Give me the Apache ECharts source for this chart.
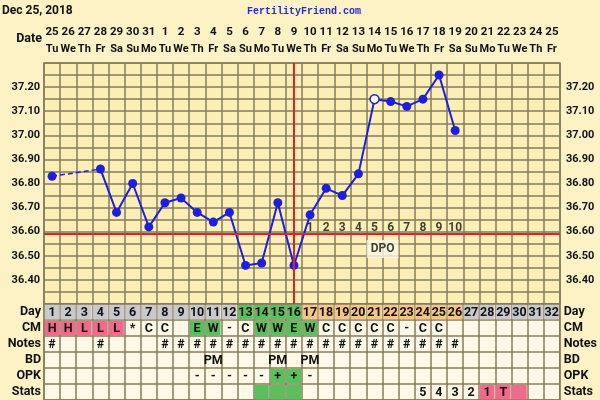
<!DOCTYPE html>
<html><head><meta charset="utf-8">
<script src="https://cdn.jsdelivr.net/npm/echarts@6/dist/echarts.min.js"></script>
<style>html,body{margin:0;padding:0;background:#FCF2C6}#c{width:600px;height:400px}</style>
</head><body><div id="c"></div>
<script>
// ---- data ----
const dayNums = ['1','2','3','4','5','6','7','8','9','10','11','12','13','14','15','16','17','18','19','20','21','22','23','24','25','26','27','28','29','30','31','32'];
const dates = ['25','26','27','28','29','30','31','1','2','3','4','5','6','7','8','9','10','11','12','13','14','15','16','17','18','19','20','21','22','23','24','25'];
const weekdays = ['Tu','We','Th','Fr','Sa','Su','Mo','Tu','We','Th','Fr','Sa','Su','Mo','Tu','We','Th','Fr','Sa','Su','Mo','Tu','We','Th','Fr','Sa','Su','Mo','Tu','We','Th','Fr'];
const temps = [36.83,null,null,36.86,36.68,36.80,36.62,36.72,36.74,36.68,36.64,36.68,36.46,36.47,36.72,36.46,36.67,36.78,36.75,36.84,37.15,37.14,37.12,37.15,37.25,37.02,null,null,null,null,null,null];
const dashedTemps = [36.83,null,null,36.86,null,null,null,null,null,null,null,null,null,null,null,null,null,null,null,null,null,null,null,null,null,null,null,null,null,null,null,null];
const openDays = ['21'];
const tempTicks = ['36.40','36.50','36.60','36.70','36.80','36.90','37.00','37.10','37.20'];
const coverline = 36.59;
const ovulationDay = '16';
const dpo = ['','','','','','','','','','','','','','','','','1','2','3','4','5','6','7','8','9','10','','','','','',''];
const rowLabels = ['Day','CM','Notes','BD','OPK','Stats'];
const dayColor = ['g','g','g','g','g','g','g','g','g','g','g','g','G','G','G','G','o','o','o','o','o','o','o','o','o','o','g','g','g','g','g','g'];
const cmText  = ['H','H','L','L','L','*','C','C','','E','W','-','C','W','W','E','W','C','C','C','C','C','-','C','C','','','','','','',''];
const cmColor = ['p','p','p','p','p','','','','','G','G','','','G','G','G','G','','','','','','','','','','','','','','',''];
const notes = ['#','','','#','','','','#','#','#','#','#','#','#','#','#','#','#','#','#','#','#','#','#','#','#','','','','','',''];
const bd = ['','','','','','','','','','','PM','','','','PM','','PM','','','','','','','','','','','','','','',''];
const opk = ['','','','','','','','','','-','-','-','-','-','+','+','-','','','','','','','','','','','','','','',''];
const opkColor = ['','','','','','','','','','','','','','','G','G','','','','','','','','','','','','','','','',''];
const stats = ['','','','','','','','','','','','','','','','','','','','','','','','5','4','3','2','1','T','','',''];
const statsColor = ['','','','','','','','','','','','','','G','G','G','','','','','','','','','','','','p','p','p','',''];

// ---- styles ----
const LINE = '#857C5C';
const BLUE = '#1E1EDC';
const RED = '#E8202A';
const palette = {g:'#C8C9CB', G:'#5DBE5D', o:'#F7C588', p:'#EE6B8B'};
const FONT = 'Roboto';

const cells = [];
function addRow(r, texts, colors){
  for (let i=0;i<32;i++){
    const t = texts ? texts[i] : '';
    const c = colors ? colors[i] : '';
    if (t || c) cells.push({x:i, y:r, text:t, color:c ? palette[c] : null});
  }
}
addRow(0, dayNums, dayColor);
addRow(1, cmText, cmColor);
addRow(2, notes, null);
addRow(3, bd, null);
addRow(4, opk, opkColor);
addRow(5, stats, statsColor);

const chart = echarts.init(document.getElementById('c'), null, {renderer:'canvas'});
const labelFmt = v => { const s = Number(v).toFixed(2); return tempTicks.indexOf(s) >= 0 ? s : ''; };
const lab = {fontFamily:FONT, fontWeight:'bold', color:'#111'};

chart.setOption({
  animation:false,
  backgroundColor:'#FCF2C6',
  textStyle:{fontFamily:FONT},
  grid:[
    {left:44, right:40, top:63, height:241, show:true, backgroundColor:'#FBEFB7', borderColor:LINE, borderWidth:1.5},
    {left:44, right:40, top:304, height:97.5, show:true, backgroundColor:'#FEF9E7', borderColor:LINE, borderWidth:1.5}
  ],
  xAxis:[
    {type:'category', gridIndex:0, position:'top', data:dayNums, boundaryGap:true,
     axisLine:{show:false}, axisTick:{show:false},
     splitLine:{show:true, interval:0, lineStyle:{color:LINE, width:1.5}},
     axisLabel:{interval:0, margin:5, formatter:(v,i)=>'{d|'+dates[i]+'}\n{w|'+weekdays[i]+'}',
       rich:{d:Object.assign({fontSize:11.5, lineHeight:17}, lab),
             w:Object.assign({fontSize:11, lineHeight:17}, lab)}}},
    {type:'category', gridIndex:1, data:dayNums, boundaryGap:true,
     axisLine:{show:false}, axisTick:{show:false}, axisLabel:{show:false},
     splitLine:{show:true, interval:0, lineStyle:{color:LINE, width:1.5}}}
  ],
  yAxis:[
    {type:'value', gridIndex:0, min:36.3, max:37.3, interval:0.05,
     axisLine:{show:false}, axisTick:{show:false},
     splitLine:{show:true, lineStyle:{color:LINE, width:1.5}},
     axisLabel:Object.assign({formatter:labelFmt, fontSize:11, margin:4}, lab)},
    {type:'value', gridIndex:0, position:'right', min:36.3, max:37.3, interval:0.05,
     axisLine:{show:false}, axisTick:{show:false}, splitLine:{show:false},
     axisLabel:Object.assign({formatter:labelFmt, fontSize:11, margin:6}, lab)},
    {type:'category', gridIndex:1, data:rowLabels, inverse:true, boundaryGap:true,
     axisLine:{show:false}, axisTick:{show:false},
     splitLine:{show:true, interval:0, lineStyle:{color:LINE, width:1.5}},
     axisLabel:Object.assign({interval:0, fontSize:12.5, margin:3}, lab)},
    {type:'category', gridIndex:1, position:'right', data:rowLabels, inverse:true, boundaryGap:true,
     axisLine:{show:false}, axisTick:{show:false}, splitLine:{show:false},
     axisLabel:Object.assign({interval:0, fontSize:12.5, margin:4}, lab)}
  ],
  graphic:[
    {type:'text', left:2, top:5, style:{text:'Dec 25, 2018', font:'bold 12px Roboto', fill:'#111'}},
    {type:'text', left:247, top:6, style:{text:'FertilityFriend.com', font:'bold 10px "Liberation Mono"', fill:'#2A2AD0'}},
    {type:'text', right:558, top:32, style:{text:'Date', font:'bold 12.5px Roboto', fill:'#111'}}
  ],
  series:[
    {type:'line', xAxisIndex:0, yAxisIndex:0, data:dashedTemps, connectNulls:true, symbol:'none',
     lineStyle:{color:BLUE, width:1.5, type:[5,3]}, z:3, silent:true},
    {type:'line', xAxisIndex:0, yAxisIndex:0, showAllSymbol:true, connectNulls:false,
     data:temps.map((v,i)=> openDays.indexOf(dayNums[i])>=0 ? {value:v, itemStyle:{color:'#FFFFFF', borderColor:BLUE, borderWidth:1.5}} : v),
     symbol:'circle', symbolSize:9, lineStyle:{color:BLUE, width:2}, itemStyle:{color:BLUE}, z:4,
     markLine:{silent:true, symbol:'none', label:{show:false},
       lineStyle:{color:RED, width:2, type:'solid'},
       data:[{yAxis:coverline}, {xAxis:ovulationDay}]}},
    {type:'scatter', xAxisIndex:0, yAxisIndex:0, symbolSize:0, z:5,
     data:dpo.map((t,i)=> t ? [i, 36.617] : null).filter(Boolean),
     label:Object.assign({show:true, position:'inside', formatter:p=>dpo[p.value[0]], fontSize:12}, lab)},
    {type:'scatter', xAxisIndex:0, yAxisIndex:0, symbolSize:0, z:5,
     data:[[20, 36.528]],
     label:Object.assign({show:true, position:'inside', offset:[8,0], formatter:'DPO', fontSize:12,
       backgroundColor:'#FEF8E2', padding:[3,4]}, lab)},
    {type:'custom', xAxisIndex:1, yAxisIndex:2, z:5,
     data:cells.map(c=>[c.x, c.y]),
     renderItem:function(params, api){
       const c = cells[params.dataIndex];
       const p = api.coord([api.value(0), api.value(1)]);
       const s = api.size([1,1]);
       const ch = [];
       if (c.color) ch.push({type:'rect', shape:{x:p[0]-s[0]/2+0.75, y:p[1]-s[1]/2+0.75, width:s[0]-1.5, height:s[1]-1.5}, style:{fill:c.color}});
       if (c.text) ch.push({type:'text', style:{text:c.text, x:p[0], y:p[1]+0.5, align:'center', verticalAlign:'middle', font:'bold 12.5px Roboto', fill:'#111'}});
       return {type:'group', children:ch};
     }}
  ]
});
</script></body></html>
